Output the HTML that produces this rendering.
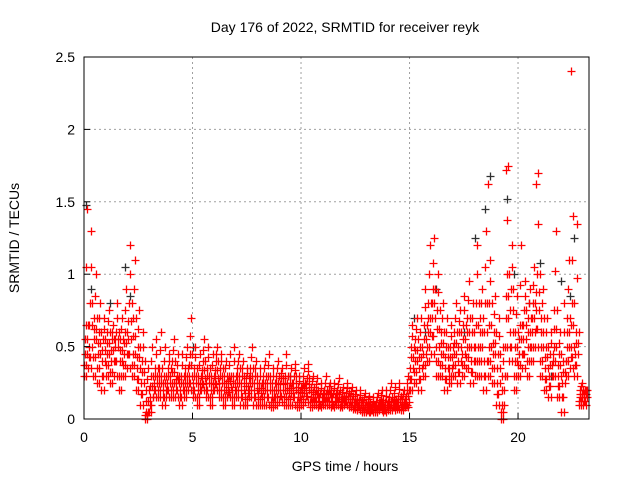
<!DOCTYPE html>
<html><head><meta charset="utf-8"><style>
body{margin:0;background:#fff;}
svg text{font-family:"Liberation Sans",sans-serif;font-size:14px;fill:#000;}
</style></head><body>
<svg id="chart" width="640" height="480">
<rect width="640" height="480" fill="#fff"/>
<text x="345" y="32" text-anchor="middle">Day 176 of 2022, SRMTID for receiver reyk</text>
<text x="345" y="471" text-anchor="middle">GPS time / hours</text>
<text transform="translate(19,238) rotate(-90)" text-anchor="middle">SRMTID / TECUs</text>
<g id="grid"></g><g id="marks"></g>
<rect x="84" y="57" width="505" height="362" fill="none" stroke="#000" stroke-width="1"/>
<g id="ticks"></g>
</svg>
<script>
const xTicks=[0,5,10,15,20];
const yTicks=[0,0.5,1,1.5,2,2.5];
const yTickLabels=["0","0.5","1","1.5","2","2.5"];
const binStart=0, binStep=0.2;
const lowVals=[.3,.35,.3,.25,.2,.3,.25,.3,.2,.3,.35,.3,.2,.1,0,.05,.15,.15,.1,.15,.15,.15,.1,.15,.2,.15,.1,.2,.15,.1,.2,.15,.1,.15,.1,.15,.1,.1,.15,.1,.1,.1,.1,.08,.1,.12,.1,.1,.1,.08,.1,.12,.08,.1,.08,.1,.1,.08,.1,.08,.1,.08,.07,.06,.05,.05,.05,.05,.06,.05,.06,.06,.07,.06,.08,.2,.25,.2,.3,.4,.45,.3,.3,.2,.25,.3,.25,.3,.35,.25,.3,.3,.2,.3,.25,.1,0,.3,.4,.2,.3,.35,.3,.4,.5,.3,.2,.15,.3,.15,.05,.3,.35,.3,.1,.1];
const midVals=[.45,.5,.55,.45,.4,.45,.4,.5,.4,.45,.55,.45,.35,.25,.05,.15,.25,.25,.2,.25,.25,.25,.2,.25,.3,.25,.2,.28,.25,.2,.28,.25,.2,.22,.2,.25,.2,.18,.25,.2,.18,.2,.2,.15,.2,.2,.2,.18,.2,.15,.18,.2,.15,.15,.12,.15,.15,.12,.15,.12,.14,.12,.1,.1,.08,.08,.08,.08,.1,.08,.1,.1,.12,.1,.12,.35,.4,.35,.45,.6,.7,.5,.45,.35,.35,.45,.4,.45,.5,.4,.5,.5,.4,.5,.45,.25,.1,.7,.6,.4,.45,.55,.5,.6,.75,.5,.35,.3,.5,.3,.25,.5,.5,.45,.15,.15];
const highVals=[.65,.8,.7,.6,.55,.6,.55,.6,.55,.6,.8,.7,.5,.4,.2,.3,.35,.35,.3,.35,.4,.3,.3,.35,.45,.35,.3,.4,.35,.3,.4,.35,.3,.3,.3,.35,.3,.28,.35,.3,.25,.3,.3,.25,.3,.28,.3,.25,.3,.22,.25,.28,.22,.2,.18,.2,.2,.18,.2,.15,.18,.16,.14,.13,.12,.12,.1,.12,.13,.12,.15,.14,.16,.14,.2,.5,.55,.5,.65,.8,.9,.75,.6,.5,.5,.6,.6,.65,.7,.6,.8,.7,.8,.8,.6,.45,.3,1.0,.9,.6,.65,.75,.7,.8,1.0,.7,.5,.45,.75,.45,.4,.7,.8,.6,.2,.2];
const peakVals=[1.45,1.3,1.0,.8,.7,.75,.65,.8,.7,.9,1.2,1.1,.75,.6,.35,.5,.55,.6,.5,.45,.55,.45,.45,.5,.7,.5,.45,.55,.5,.45,.5,.45,.4,.45,.5,.45,.4,.35,.5,.4,.35,.4,.45,.35,.4,.35,.45,.35,.38,.3,.35,.38,.3,.28,.25,.3,.25,.25,.28,.22,.25,.22,.2,.2,.18,.16,.15,.18,.2,.2,.25,.22,.25,.2,.3,.65,.7,.7,.9,1.2,1.25,1.0,.8,.7,.65,.8,.75,.85,.95,.8,1.2,.9,1.3,1.1,.85,.7,.5,1.75,1.2,.85,1.2,.95,.9,1.05,1.7,.9,.7,.6,1.3,.6,.8,1.1,1.4,1.35,.25,.2];
const outlierTimes=[22.45,19.45,18.6,20.85];
const outlierVals=[2.4,1.72,1.62,1.62];
const blackTimes=[0.1,0.3,1.2,1.9,2.1,5.0,9.5,15.2,15.7,16.2,17.5,18.0,18.5,18.7,19.5,19.8,20.5,21.0,21.5,22.0,22.4,22.6];
const blackVals=[1.48,0.9,0.8,1.05,0.85,0.5,0.3,0.7,0.6,0.9,0.6,1.25,1.45,1.68,1.52,1.0,0.8,1.08,0.3,0.95,0.85,1.25];

const X0=84,X1=589,Y0=419,Y1=57,XMAX=23.27,YMAX=2.5;
function xs(t){return X0+t*(X1-X0)/XMAX;}
function ys(v){return Y0-v*(Y0-Y1)/YMAX;}
const NS="http://www.w3.org/2000/svg";
const grid=document.getElementById('grid'),ticks=document.getElementById('ticks'),marks=document.getElementById('marks');
function mk(tag,attrs,parent){const e=document.createElementNS(NS,tag);for(const k in attrs)e.setAttribute(k,attrs[k]);parent.appendChild(e);return e;}
xTicks.forEach((t,i)=>{
  const x=xs(t);
  if(i>0){const g=mk('line',{x1:x,x2:x,y1:Y1,y2:Y0,stroke:'#a0a0a0','stroke-dasharray':'2,3'},grid);
  
  }
  const l=mk('text',{x:x,y:Y0+23,'text-anchor':'middle'},ticks);l.textContent=String(t);
  
  
  mk('line',{x1:x,x2:x,y1:Y0,y2:Y0-6,stroke:'#000'},ticks);
});
yTicks.forEach((v,i)=>{
  const y=ys(v);
  if(i>0&&i<yTicks.length-1){const g=mk('line',{x1:X0,x2:X1,y1:y,y2:y,stroke:'#a0a0a0','stroke-dasharray':'2,3'},grid);
  
  }
  const l=mk('text',{x:X0-9,y:y+5,'text-anchor':'end'},ticks);l.textContent=yTickLabels[i];
  
  
  mk('line',{x1:X0,x2:X0+6,y1:y,y2:y,stroke:'#000'},ticks);
});
function plus(t,v,color,name){
  const x=Math.round(xs(t))+0.5,y=Math.round(ys(v))+0.5;
  const p=mk('path',{d:`M${x-4} ${y}H${x+4}M${x} ${y-4}V${y+4}`,stroke:color,'stroke-width':1.3,fill:'none'},marks);
  
  
}
blackTimes.forEach((t,i)=>plus(t,blackVals[i],'#303030','black-point'));
const offsets=[[0,0.11],[0.04,0.16],[0.07,0.19],[0.13]];
[lowVals,midVals,highVals,peakVals].forEach((arr,k)=>{
  arr.forEach((v,i)=>{offsets[k].forEach(o=>plus(binStart+i*binStep+o,v,'#ff0000','red-point'));});
});
midVals.forEach((v,i)=>{
  const t=binStart+i*binStep;
  plus(t+0.02,(v+lowVals[i])/2,'#ff0000','red-point');
  plus(t+0.09,(v+lowVals[i])/2,'#ff0000','red-point');
  plus(t+0.05,(v+highVals[i])/2,'#ff0000','red-point');
  plus(t+0.15,(v+highVals[i])/2,'#ff0000','red-point');
  plus(t+0.1,(highVals[i]+peakVals[i])/2,'#ff0000','red-point');
});
outlierTimes.forEach((t,i)=>plus(t,outlierVals[i],'#ff0000','red-outlier'));
</script>
</body></html>
